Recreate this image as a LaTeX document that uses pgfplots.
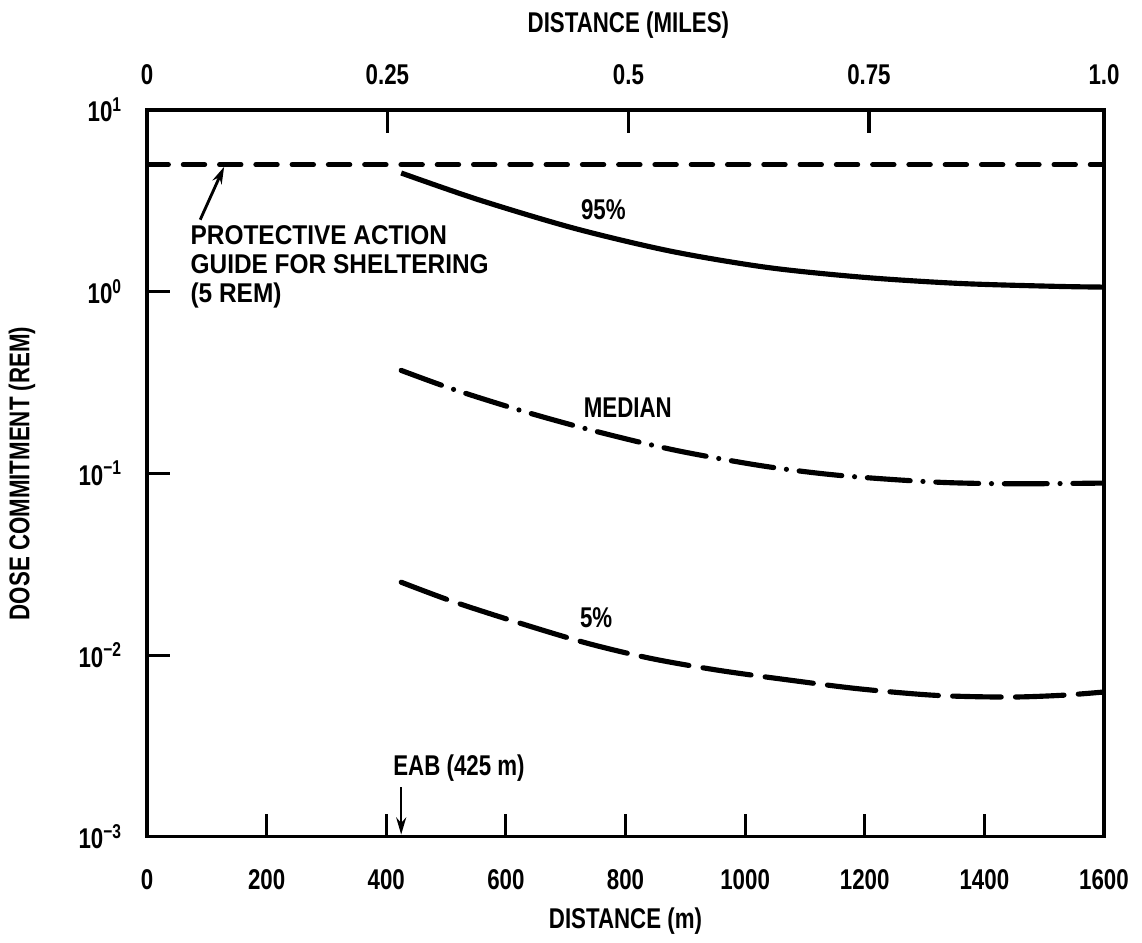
\documentclass[border=0pt]{standalone}
\usepackage{fontspec}
\setmainfont{Liberation Sans}[FakeStretch=0.78]
\newfontfamily\annfont{Liberation Sans}[FakeStretch=0.9]
\usepackage{pgfplots}
\pgfplotsset{compat=1.18}
\usetikzlibrary{arrows.meta,calc}

\begin{document}
\begin{tikzpicture}[font=\fontsize{10}{12}\selectfont\bfseries]
\begin{axis}[
  scale only axis, width=335pt, height=254.45pt,
  xmin=0, xmax=1600, ymin=1e-3, ymax=10, ymode=log,
  axis line style={line width=1.1pt},
  xtick={0,200,400,600,800,1000,1200,1400,1600},
  xticklabels={0,200,400,600,800,1000,1200,1400,1600},
  xtick pos=bottom, ytick pos=left,
  ytick={1e-3,1e-2,1e-1,1,10},
  yticklabels={10\textsuperscript{−3},10\textsuperscript{−2},10\textsuperscript{−1},10\textsuperscript{0},10\textsuperscript{1}},
  yminorticks=false,
  tick align=inside, major tick length=8pt,
  tick style={line width=1.1pt, black},
  xticklabel style={anchor=center, yshift=-15pt},
  yticklabel style={anchor=east, xshift=-5pt},
  xlabel={DISTANCE (m)},
  xlabel style={at={(rel axis cs:0.5,-0.1155)}, anchor=center},
  ylabel={DOSE COMMITMENT (REM)},
  ylabel style={at={(rel axis cs:-0.1306,0.5)}, anchor=center},
]
\coordinate (BL) at (rel axis cs:0,0);
\coordinate (TR) at (rel axis cs:1,1);
% Protective action guide (5 rem)
\addplot[line width=1.75pt, line cap=round, dash pattern=on 7.5pt off 5.2pt] coordinates {(0,5) (1600,5)};
% 95%
\addplot[line width=1.8pt, smooth] coordinates {
(425,4.5) (554,3.21) (715,2.23) (876,1.67) (1037,1.36) (1198,1.20) (1359,1.11) (1520,1.07) (1600,1.06)};
% median
\addplot[line width=1.8pt, smooth, line cap=round, dash pattern=on 15pt off 4.5pt on 0pt off 4.5pt] coordinates {
(425,0.369) (514,0.289) (635,0.217) (755,0.169) (884,0.134) (1029,0.110) (1158,0.0975) (1318,0.0896) (1447,0.0877) (1600,0.0885)};
% 5%
\addplot[line width=1.8pt, smooth, line cap=round, dash pattern=on 17pt off 5pt] coordinates {
(425,0.0252) (514,0.0196) (635,0.0146) (739,0.01156) (844,0.00957) (957,0.00824) (1077,0.00727) (1190,0.00653) (1318,0.00601) (1439,0.00588) (1528,0.00601) (1600,0.00627)};

\node at (axis cs:763,2.83) {95\%};
\node at (axis cs:804,0.23) {MEDIAN};
\node at (axis cs:751,0.0161) {5\%};
\node[anchor=west, align=left, inner sep=0pt, font=\annfont\fontsize{9.5}{10.2}\selectfont\bfseries] at (axis cs:72,1.373) {PROTECTIVE ACTION\\GUIDE FOR SHELTERING\\(5 REM)};
\draw[line width=1pt, -{Stealth[length=6pt,width=3.5pt]}] (axis cs:89,2.49) -- (axis cs:129,4.87);
\node[anchor=west, inner sep=0pt] at (axis cs:411,0.0024) {EAB (425 m)};
\draw[line width=0.9pt, -{Stealth[length=6pt,width=3.5pt]}] (axis cs:425,0.00188) -- (axis cs:425,0.00103);
\end{axis}
\begin{axis}[
  scale only axis, width=335pt, height=254.45pt,
  xmin=0, xmax=1600, ymin=0, ymax=1,
  axis y line=none, axis x line*=top,
  axis line style={line width=1.1pt},
  xtick={0,402,805,1207,1600},
  xticklabels={0,0.25,0.5,0.75,1.0},
  tick align=inside, major tick length=8pt,
  tick style={line width=1.1pt, black},
  xticklabel style={anchor=center, yshift=12.25pt},
  xlabel={DISTANCE (MILES)},
  xlabel style={at={(rel axis cs:0.503,1.117)}, anchor=center},
]
\addplot[draw=none] coordinates {(0,0.5) (1600,0.5)};
\end{axis}
\pgfresetboundingbox
\path ($(BL)+(-51.45pt,-37.1pt)$) rectangle ($(TR)+(13.3pt,38.5pt)$);
\end{tikzpicture}
\end{document}
